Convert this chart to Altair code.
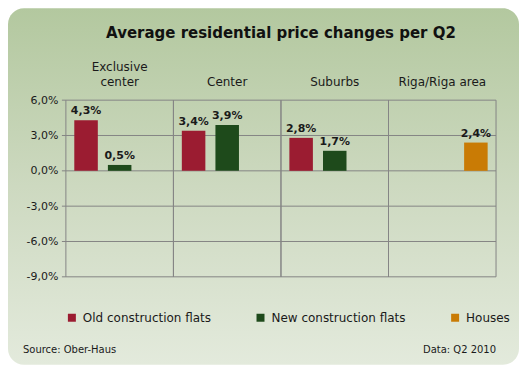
import altair as alt
import pandas as pd

# ---- data ----
categories = ["Exclusive center", "Center", "Suburbs", "Riga/Riga area"]
series = ["Old construction flats", "New construction flats", "Houses"]
bar_category = ["Exclusive center", "Exclusive center", "Center", "Center",
                "Suburbs", "Suburbs", "Riga/Riga area"]
bar_series = ["Old construction flats", "New construction flats",
              "Old construction flats", "New construction flats",
              "Old construction flats", "New construction flats", "Houses"]
bar_values = [4.3, 0.5, 3.4, 3.9, 2.8, 1.7, 2.4]
y_ticks = [-9, -6, -3, 0, 3, 6]
colors = ["#9b1c31", "#1e4a1b", "#c97b05"]

title_text = "Average residential price changes per Q2"
source_text = "Source: Ober-Haus"
data_text = "Data: Q2 2010"

df = pd.DataFrame({"category": bar_category, "series": bar_series, "value": bar_values})
df["label"] = df["value"].map(lambda v: f"{v:.1f}%".replace(".", ","))
ticks_df = pd.DataFrame({"v": y_ticks})
vlines_df = pd.DataFrame({"category": categories,
                          "ymin": [min(y_ticks)] * len(categories),
                          "ymax": [max(y_ticks)] * len(categories)})

W, H = 431, 177
FONT = "DejaVu Sans"
GRID = "#858585"
TXT = "#1a1a1a"

yscale = alt.Scale(domain=[min(y_ticks), max(y_ticks)], nice=False)
xscale = alt.Scale(domain=categories, paddingInner=0, paddingOuter=0)
oscale = alt.Scale(domain=series, paddingInner=0.3, paddingOuter=0.25)

x_axis = alt.Axis(orient="top", title=None, ticks=False, domain=False, grid=False,
                  labelAngle=0, labelFontSize=12, labelFont=FONT, labelColor=TXT,
                  labelPadding=27, labelLineHeight=15, zindex=1,
                  labelExpr="datum.label == 'Exclusive center' ? ['Exclusive', 'center'] : ['', datum.label]")
y_axis = alt.Axis(values=y_ticks, title=None, ticks=False, domain=False, grid=False,
                  labelFontSize=11, labelFont=FONT, labelColor=TXT, labelPadding=8, zindex=1,
                  labelExpr="replace(replace(format(datum.value / 100, '.1%'), '.', ','), '\u2212', '-')")

one = alt.Data(values=[{}])

panel = alt.Chart(one).mark_rect(
    cornerRadius=16,
    fill=alt.Gradient(gradient="linear", x1=0, x2=0, y1=0, y2=1,
                      stops=[alt.GradientStop(color="#b3c89f", offset=0),
                             alt.GradientStop(color="#cdd9c0", offset=0.5),
                             alt.GradientStop(color="#e3eadc", offset=1)]),
).encode(x=alt.value(-58), x2=alt.value(454), y=alt.value(-92), y2=alt.value(265))

hgrid = alt.Chart(ticks_df).mark_rule(color=GRID, strokeWidth=1).encode(
    y=alt.Y("v:Q", scale=yscale, axis=y_axis),
    x=alt.value(-4), x2=alt.value(W))

vgrid0 = alt.Chart(vlines_df).mark_rule(color=GRID, strokeWidth=1).encode(
    x=alt.X("category:N", sort=categories, scale=xscale, axis=x_axis, bandPosition=0),
    y=alt.Y("ymin:Q", scale=yscale, axis=y_axis), y2="ymax:Q")
vgrid1 = alt.Chart(vlines_df).mark_rule(color=GRID, strokeWidth=1).encode(
    x=alt.X("category:N", sort=categories, scale=xscale, axis=x_axis, bandPosition=1),
    y=alt.Y("ymin:Q", scale=yscale, axis=y_axis), y2="ymax:Q")

bars = alt.Chart(df).mark_bar().encode(
    x=alt.X("category:N", sort=categories, scale=xscale, axis=x_axis),
    xOffset=alt.XOffset("series:N", sort=series, scale=oscale),
    y=alt.Y("value:Q", scale=yscale, axis=y_axis),
    color=alt.Color("series:N", sort=series,
                    scale=alt.Scale(domain=series, range=colors),
                    legend=alt.Legend(orient="none", legendX=0, legendY=212,
                                      direction="horizontal", title=None,
                                      symbolType="square", symbolSize=64,
                                      symbolStrokeWidth=0, symbolOpacity=1,
                                      labelFont=FONT, labelFontSize=12,
                                      labelColor=TXT, labelOffset=5,
                                      columnPadding=43, zindex=1)),
)

labels = alt.Chart(df).mark_text(baseline="bottom", dy=-4, fontWeight="bold",
                                 fontSize=11, font=FONT, color=TXT).encode(
    x=alt.X("category:N", sort=categories, scale=xscale, axis=x_axis),
    xOffset=alt.XOffset("series:N", sort=series, scale=oscale),
    y=alt.Y("value:Q", scale=yscale, axis=y_axis),
    text="label:N",
)

title = alt.Chart(one).mark_text(fontSize=15, fontWeight="bold", font=FONT,
                                 color="#111111", baseline="middle", align="center").encode(
    x=alt.value(W / 2), y=alt.value(-67), text=alt.value(title_text))

src = alt.Chart(one).mark_text(fontSize=10, font=FONT, color=TXT,
                               baseline="middle", align="left").encode(
    x=alt.value(-43), y=alt.value(250), text=alt.value(source_text))
dat = alt.Chart(one).mark_text(fontSize=10, font=FONT, color=TXT,
                               baseline="middle", align="right").encode(
    x=alt.value(W), y=alt.value(250), text=alt.value(data_text))

chart = alt.layer(panel, hgrid, vgrid0, vgrid1, bars, labels, title, src, dat).properties(
    width=W, height=H, padding=0, background="white",
).configure_view(stroke=None)

chart.save("out.html", embed_options={"renderer": "svg", "actions": False})
